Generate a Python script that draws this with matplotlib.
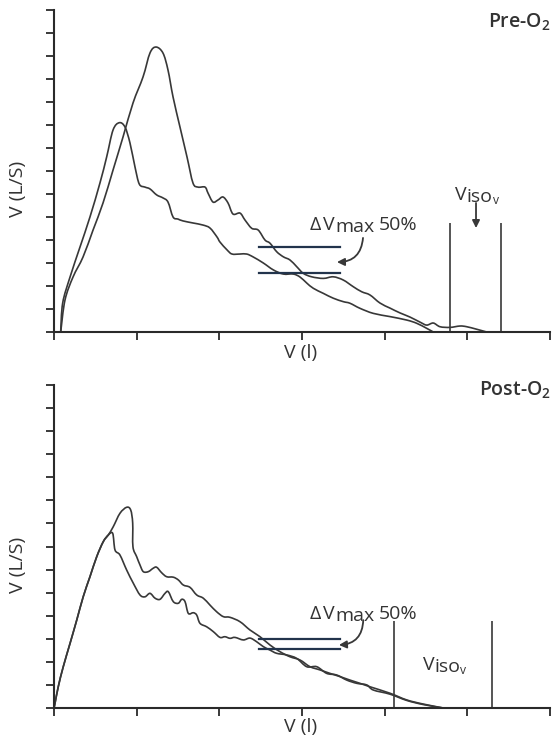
import matplotlib
matplotlib.use("Agg")
import matplotlib.pyplot as plt
import numpy as np
from matplotlib.path import Path
from matplotlib.patches import PathPatch
from matplotlib.transforms import offset_copy

plt.rcParams['font.family'] = ['Open Sans', 'DejaVu Sans']
plt.rcParams['mathtext.default'] = 'regular'

# ---------------- data (x: volume tick units, y: flow tick units) -------------
x_ticks = [0, 1, 2, 3, 4, 5, 6]
y_ticks = list(range(0, 15))

# Pre-O2, curve with the higher peak
pre_a_x = [0.081, 0.133, 0.230, 0.351, 0.472, 0.593, 0.714, 0.835, 0.956, 1.077, 1.161, 1.234,
           1.318, 1.379, 1.440, 1.524, 1.609, 1.681, 1.742, 1.827, 1.863, 1.923, 1.984, 2.044,
           2.105, 2.165, 2.250, 2.310, 2.391, 2.471, 2.552, 2.613, 2.694, 2.774, 2.855, 2.936,
           3.016, 3.117, 3.258, 3.378, 3.499, 3.620, 3.722, 3.822, 3.943, 4.064, 4.185, 4.306,
           4.427, 4.508, 4.588, 4.669, 4.790, 4.911, 4.992, 5.113, 5.234]
pre_a_y = [0.00, 1.39, 2.39, 3.26, 4.43, 5.61, 7.04, 8.48, 9.96, 11.09, 12.13, 12.39,
           12.13, 11.39, 10.22, 8.91, 7.61, 6.48, 6.30, 6.30, 6.04, 5.65, 5.74, 5.87,
           5.61, 5.13, 5.17, 4.87, 4.51, 4.43, 4.00, 3.86, 3.49, 3.27, 3.13, 2.84,
           2.55, 2.40, 2.33, 2.40, 2.26, 1.97, 1.75, 1.61, 1.26, 1.04, 0.83, 0.65,
           0.43, 0.30, 0.39, 0.23, 0.20, 0.26, 0.23, 0.12, 0.00]

# Pre-O2, curve with the lower peak
pre_b_x = [0.081, 0.105, 0.194, 0.315, 0.435, 0.556, 0.637, 0.714, 0.790, 0.859, 0.919, 0.980,
           1.032, 1.101, 1.161, 1.242, 1.318, 1.379, 1.440, 1.500, 1.560, 1.681, 1.802, 1.887,
           1.972, 2.008, 2.093, 2.153, 2.250, 2.331, 2.411, 2.532, 2.653, 2.774, 2.895, 2.976,
           3.057, 3.137, 3.258, 3.378, 3.499, 3.580, 3.701, 3.862, 4.064, 4.266, 4.387, 4.508,
           4.588]
pre_b_y = [0.00, 1.26, 2.39, 3.70, 5.00, 6.48, 7.61, 8.78, 9.10, 8.91, 8.22, 7.17,
           6.43, 6.30, 6.22, 5.96, 5.83, 5.65, 5.00, 4.91, 4.83, 4.74, 4.65, 4.52,
           4.13, 3.91, 3.57, 3.39, 3.39, 3.39, 3.26, 3.00, 2.70, 2.52, 2.52, 2.39,
           2.13, 1.90, 1.68, 1.47, 1.32, 1.25, 1.03, 0.81, 0.67, 0.52, 0.38, 0.16,
           0.00]

# Post-O2, shared rising limb
post_rise_x = [0.000, 0.012, 0.052, 0.112, 0.194, 0.275, 0.354, 0.435, 0.517, 0.596, 0.657]
post_rise_y = [0.00, 0.20, 0.93, 1.79, 2.80, 3.81, 4.83, 5.69, 6.56, 7.21, 7.50]

# Post-O2, curve with the higher peak
post_c_x = [0.717, 0.798, 0.879, 0.928, 0.952, 0.955, 1.000, 1.040, 1.080, 1.141, 1.201, 1.242,
            1.303, 1.363, 1.443, 1.504, 1.564, 1.645, 1.726, 1.806, 1.887, 1.968, 2.048, 2.129,
            2.250, 2.371, 2.492, 2.613, 2.734, 2.855, 2.976, 3.097, 3.218, 3.339, 3.460, 3.580,
            3.701, 3.822, 4.064, 4.266, 4.467, 4.709]
post_c_y = [7.86, 8.44, 8.70, 8.58, 8.01, 6.99, 6.56, 6.20, 5.91, 5.91, 6.06, 6.10,
            5.86, 5.69, 5.67, 5.55, 5.33, 5.23, 4.90, 4.76, 4.46, 4.17, 3.96, 3.93,
            3.74, 3.38, 3.09, 2.73, 2.44, 2.22, 2.08, 1.79, 1.65, 1.50, 1.36, 1.21,
            1.07, 0.92, 0.64, 0.35, 0.17, 0.00]

# Post-O2, curve with the lower peak
post_d_x = [0.710, 0.738, 0.798, 0.879, 0.959, 1.040, 1.101, 1.161, 1.222, 1.282, 1.343, 1.383,
            1.443, 1.504, 1.545, 1.585, 1.625, 1.685, 1.726, 1.766, 1.847, 1.927, 2.008, 2.068,
            2.129, 2.189, 2.290, 2.371, 2.452, 2.532, 2.613, 2.694, 2.815, 2.936, 3.057, 3.178,
            3.299, 3.420, 3.541, 3.662, 3.783, 3.862, 4.064, 4.266, 4.467, 4.709]
post_d_y = [7.57, 6.85, 6.63, 5.98, 5.41, 4.90, 4.82, 4.97, 4.76, 4.71, 4.97, 5.04,
            4.61, 4.54, 4.71, 4.61, 4.10, 4.13, 4.03, 3.67, 3.52, 3.31, 3.06, 3.09,
            3.02, 3.06, 2.95, 3.03, 2.87, 2.66, 2.51, 2.37, 2.30, 2.15, 1.79, 1.79,
            1.50, 1.43, 1.21, 1.07, 1.00, 0.78, 0.60, 0.33, 0.15, 0.00]

# Delta Vmax 50% bars: [x_start, x_end], flows (upper, lower)
dvmax_x = [2.483, 3.460]
pre_dvmax_y = [3.68, 2.55]
post_dvmax_y = [2.98, 2.56]

# Viso-V vertical lines: x positions and height
pre_iso_x = [4.796, 5.413]
pre_iso_top = 4.75
post_iso_x = [4.113, 5.295]
post_iso_top = 3.78

panel_titles = ['Pre-O$_2$', 'Post-O$_2$']
ylabel = 'V (L/S)'
xlabel = 'V (l)'

# ---------------------------------------------------------------------------
W, H = 553, 748
fig = plt.figure(figsize=(W / 100, H / 100), dpi=100)
fig.patch.set_facecolor('white')
renderer = fig.canvas.get_renderer()

curve_col = '#383838'
axis_col = '#2a2a2a'
bar_col = '#22344c'
text_col = '#333333'
FS = 14


def frac_rect(left, top, right, bottom):
    return [left / W, 1 - bottom / H, (right - left) / W, (bottom - top) / H]


ax_top = fig.add_axes(frac_rect(54, 10, 550, 332))
ax_bot = fig.add_axes(frac_rect(54, 385, 550, 708))


def style_axes(ax):
    ax.set_xlim(0, 6)
    ax.set_ylim(0, 14)
    for s in ['top', 'right']:
        ax.spines[s].set_visible(False)
    for s in ['left', 'bottom']:
        ax.spines[s].set_color(axis_col)
        ax.spines[s].set_linewidth(1.5)
    ax.set_xticks(x_ticks)
    ax.set_yticks(y_ticks)
    ax.set_xticklabels([])
    ax.set_yticklabels([])
    ax.tick_params(axis='both', direction='out', length=5.5, width=1.3, color=axis_col)
    ax.patch.set_alpha(0)


def smooth_curve(ax, xs, ys, **kw):
    """Draw a smooth curve through the given points (Catmull-Rom as cubic Beziers)."""
    pts = np.column_stack([xs, ys]).astype(float)
    n = len(pts)
    verts = [pts[0]]
    codes = [Path.MOVETO]
    for i in range(n - 1):
        p0 = pts[i - 1] if i > 0 else pts[i]
        p1 = pts[i]
        p2 = pts[i + 1]
        p3 = pts[i + 2] if i + 2 < n else pts[i + 1]
        c1 = p1 + (p2 - p0) / 6.0
        c2 = p2 - (p3 - p1) / 6.0
        verts += [c1, c2, p2]
        codes += [Path.CURVE4] * 3
    patch = PathPatch(Path(verts, codes), fill=False, clip_on=False,
                      joinstyle='round', capstyle='round', **kw)
    ax.add_patch(patch)


def chain_label(ax, x0, y, parts):
    """parts: list of (text, fontsize, dy_points, gap_px_before)."""
    x = x0
    for t, size, dy, gap in parts:
        x_disp = ax.transData.transform((x, y))[0] + gap
        x = ax.transData.inverted().transform((x_disp, 0))[0]
        tr = offset_copy(ax.transData, fig=fig, x=0, y=dy, units='points')
        txt = ax.text(x, y, t, transform=tr, ha='left', va='baseline', fontsize=size,
                      color=text_col)
        bb = txt.get_window_extent(renderer=renderer)
        x = ax.transData.inverted().transform((bb.x1, 0))[0]


for ax in (ax_top, ax_bot):
    style_axes(ax)

# ---- top panel ----
smooth_curve(ax_top, pre_a_x, pre_a_y, edgecolor=curve_col, lw=1.2)
smooth_curve(ax_top, pre_b_x, pre_b_y, edgecolor=curve_col, lw=1.2)
for yv in pre_dvmax_y:
    ax_top.plot(dvmax_x, [yv, yv], color=bar_col, lw=1.6)
ax_top.vlines(pre_iso_x, 0, pre_iso_top, color=curve_col, lw=1.2)

# ---- bottom panel ----
smooth_curve(ax_bot, post_rise_x + post_c_x, post_rise_y + post_c_y, edgecolor=curve_col, lw=1.2)
smooth_curve(ax_bot, post_rise_x + post_d_x, post_rise_y + post_d_y, edgecolor=curve_col, lw=1.2)
for yv in post_dvmax_y:
    ax_bot.plot(dvmax_x, [yv, yv], color=bar_col, lw=1.6)
ax_bot.vlines(post_iso_x, 0, post_iso_top, color=curve_col, lw=1.2)

# ---- annotations ----
arrow_kw = dict(arrowstyle='-|>', color=curve_col, lw=1.3, mutation_scale=11,
                shrinkA=0, shrinkB=0)

dv_parts = [('\u0394', FS, 0, 0), ('V', FS, 0, 2), ('max', FS, -1.5, 0), ('50%', FS, 0, 4)]
iso_parts = [('V', FS, 0, 0), ('iso', FS, -1.3, 0), ('v', FS * 0.62, -3.0, 0)]

chain_label(ax_top, 3.097, 4.43, dv_parts)
ax_top.annotate('', xy=(3.423, 3.04), xytext=(3.738, 4.09),
                arrowprops=dict(connectionstyle='arc3,rad=-0.45', **arrow_kw))

chain_label(ax_bot, 3.097, 3.84, dv_parts)
ax_bot.annotate('', xy=(3.447, 2.73), xytext=(3.741, 3.81),
                arrowprops=dict(connectionstyle='arc3,rad=-0.45', **arrow_kw))

chain_label(ax_top, 4.851, 5.74, iso_parts)
ax_top.annotate('', xy=(5.105, 4.52), xytext=(5.105, 5.61), arrowprops=arrow_kw)

chain_label(ax_bot, 4.46, 1.65, iso_parts)

# axis labels
for ax, ly, lx_y in ((ax_top, 0.444, -0.065), (ax_bot, 0.443, -0.059)):
    ax.text(-0.073, ly, ylabel, transform=ax.transAxes, rotation=90, ha='center', va='center',
            fontsize=FS, color=text_col)
    ax.text(0.498, lx_y, xlabel, transform=ax.transAxes, ha='center', va='center',
            fontsize=FS, color=text_col)

# panel titles
fig.text(551 / W, 1 - 28 / H, panel_titles[0], ha='right', va='baseline', fontsize=FS,
         color=text_col, fontweight='semibold')
fig.text(551 / W, 1 - 396 / H, panel_titles[1], ha='right', va='baseline', fontsize=FS,
         color=text_col, fontweight='semibold')

fig.savefig('out.png', dpi=100, facecolor='white')
